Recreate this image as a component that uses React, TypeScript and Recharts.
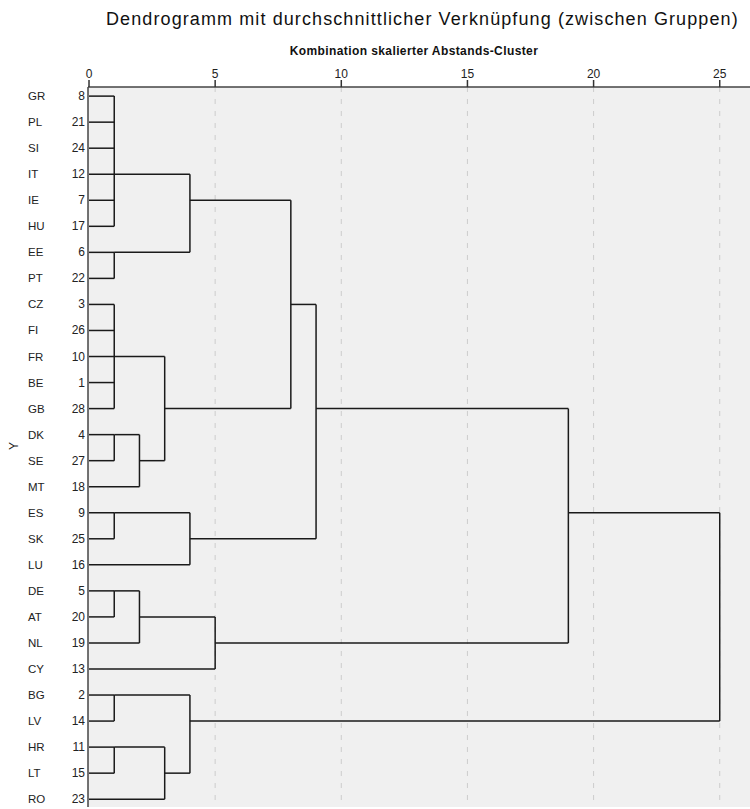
import React from "react";
import { ComposedChart, XAxis, YAxis, CartesianGrid, ReferenceLine, Scatter } from "recharts";

const countries = ["GR","PL","SI","IT","IE","HU","EE","PT","CZ","FI","FR","BE","GB","DK","SE","MT","ES","SK","LU","DE","AT","NL","CY","BG","LV","HR","LT","RO"];
const caseNumbers = [8,21,24,12,7,17,6,22,3,26,10,1,28,4,27,18,9,25,16,5,20,19,13,2,14,11,15,23];
const xTicks = [0, 5, 10, 15, 20, 25];

// clusters: id, height, children (leaf "L<row>" or cluster id), anchor row
const clusters = [
  { id: "A", h: 1, kids: ["L0","L1","L2","L3","L4","L5"], anchor: 3 },
  { id: "B", h: 1, kids: ["L6","L7"], anchor: 6 },
  { id: "C", h: 4, kids: ["A","B"], anchor: 4 },
  { id: "D", h: 1, kids: ["L8","L9","L10","L11","L12"], anchor: 10 },
  { id: "E", h: 1, kids: ["L13","L14"], anchor: 13 },
  { id: "F", h: 2, kids: ["E","L15"], anchor: 14 },
  { id: "G", h: 3, kids: ["D","F"], anchor: 12 },
  { id: "H", h: 8, kids: ["C","G"], anchor: 8 },
  { id: "I", h: 1, kids: ["L16","L17"], anchor: 16 },
  { id: "J", h: 4, kids: ["I","L18"], anchor: 17 },
  { id: "K", h: 9, kids: ["H","J"], anchor: 12 },
  { id: "Lc", h: 1, kids: ["L19","L20"], anchor: 19 },
  { id: "M", h: 2, kids: ["Lc","L21"], anchor: 20 },
  { id: "N", h: 5, kids: ["M","L22"], anchor: 21 },
  { id: "O", h: 19, kids: ["K","N"], anchor: 16 },
  { id: "P", h: 1, kids: ["L23","L24"], anchor: 23 },
  { id: "Q", h: 1, kids: ["L25","L26"], anchor: 25 },
  { id: "R", h: 3, kids: ["Q","L27"], anchor: 26 },
  { id: "S", h: 4, kids: ["P","R"], anchor: 24 },
  { id: "T", h: 25, kids: ["O","S"], anchor: 20 },
];

type Seg = { x1: number; y1: number; x2: number; y2: number };
function buildSegments(): Seg[] {
  const info: Record<string, { h: number; anchor: number }> = {};
  for (let i = 0; i < countries.length; i++) info["L" + i] = { h: 0, anchor: i };
  const segs: Seg[] = [];
  for (const c of clusters) {
    const anchors = c.kids.map((k) => info[k].anchor);
    for (const k of c.kids) segs.push({ x1: info[k].h, y1: info[k].anchor, x2: c.h, y2: info[k].anchor });
    segs.push({ x1: c.h, y1: Math.min(...anchors), x2: c.h, y2: Math.max(...anchors) });
    info[c.id] = { h: c.h, anchor: c.anchor };
  }
  return segs;
}
const segments = buildSegments();
const leafPoints = countries.map((_, i) => ({ x: 0, y: i }));

const FONT = "'Liberation Sans', Arial, sans-serif";

const YTick = (props: any) => {
  const { x, y, payload } = props;
  const i = payload.value;
  return (
    <g>
      <text x={28} y={y + 4} fontSize={11.5} fill="#222" fontFamily={FONT}>{countries[i]}</text>
      <text x={x + 5} y={y + 4} fontSize={12} textAnchor="end" fill="#222" fontFamily={FONT}>{caseNumbers[i]}</text>
    </g>
  );
};

export default function App() {
  return (
    <div style={{ position: "absolute", left: 0, top: 0, width: 750, height: 809, background: "#fff", fontFamily: FONT }}>
      <ComposedChart width={750} height={809} margin={{ top: 57, right: 0, bottom: 2, left: 8 }} style={{ position: "absolute", left: 0, top: 0 }}>
        <CartesianGrid horizontal={false} vertical={true} fill="#f0f0f0" stroke="#cccccc" strokeDasharray="5 7" verticalValues={[5, 10, 15, 20, 25]} />
        <XAxis
          dataKey="x"
          type="number"
          orientation="top"
          domain={[-0.04, 26.2]}
          ticks={xTicks}
          height={30}
          axisLine={{ stroke: "#444", strokeWidth: 1.5 }}
          tickLine={{ stroke: "#333", strokeWidth: 1.5 }}
          tickSize={7}
          tick={{ fontSize: 12, fill: "#222", fontFamily: FONT }}
          allowDataOverflow
        />
        <YAxis
          dataKey="y"
          type="number"
          reversed
          domain={[-0.35, 27.3]}
          ticks={countries.map((_, i) => i)}
          interval={0}
          width={80}
          tickLine={false}
          axisLine={{ stroke: "#444", strokeWidth: 1.5 }}
          tick={<YTick />}
          allowDataOverflow
        />
        <Scatter data={leafPoints} fill="none" shape={() => null} isAnimationActive={false} />
        {segments.map((s, i) => (
          <ReferenceLine
            key={i}
            segment={[{ x: s.x1, y: s.y1 }, { x: s.x2, y: s.y2 }]}
            stroke="#1a1a1a"
            strokeWidth={1.5}
            ifOverflow="visible"
          />
        ))}
      </ComposedChart>
      <div style={{ position: "absolute", left: 106, top: 9, fontSize: 18, letterSpacing: 1.1, color: "#111", whiteSpace: "nowrap" }}>
        Dendrogramm mit durchschnittlicher Verknüpfung (zwischen Gruppen)
      </div>
      <div style={{ position: "absolute", left: 0, width: 828, top: 44, textAlign: "center", fontSize: 12, letterSpacing: 0.4, fontWeight: "bold", color: "#111" }}>
        Kombination skalierter Abstands-Cluster
      </div>
      <div style={{ position: "absolute", left: 10, top: 439, fontSize: 12, color: "#222", transform: "rotate(-90deg)" }}>Y</div>
    </div>
  );
}
